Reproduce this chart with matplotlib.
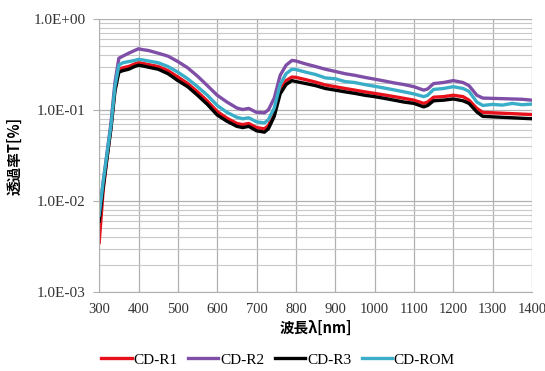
import numpy as np
import matplotlib
matplotlib.use("Agg")
import matplotlib.pyplot as plt
from matplotlib.ticker import FixedLocator, LogLocator, FuncFormatter, NullFormatter

# wavelength [nm]
wavelength = [300, 310, 320, 330, 340, 350, 360, 375, 390, 400, 410, 425, 450, 475, 500,
              525, 550, 575, 600, 625, 650, 665, 680, 700, 720, 730, 745, 760, 775, 790,
              800, 825, 850, 875, 900, 925, 950, 975, 1000, 1025, 1050, 1075, 1100, 1125,
              1135, 1150, 1175, 1200, 1225, 1240, 1260, 1275, 1300, 1325, 1350, 1375, 1400]

# transmittance values
cd_r1 = [0.0035, 0.013, 0.03, 0.065, 0.17, 0.28, 0.29, 0.30, 0.32, 0.33, 0.325, 0.315, 0.30,
         0.27, 0.23, 0.195, 0.158, 0.125, 0.096, 0.081, 0.071, 0.069, 0.071, 0.064, 0.062,
         0.067, 0.093, 0.165, 0.21, 0.23, 0.228, 0.215, 0.202, 0.188, 0.18, 0.172, 0.165,
         0.158, 0.152, 0.146, 0.14, 0.134, 0.128, 0.118, 0.122, 0.138, 0.14, 0.145, 0.14,
         0.128, 0.104, 0.094, 0.093, 0.092, 0.091, 0.09, 0.089]
cd_r2 = [0.0065, 0.016, 0.034, 0.072, 0.2, 0.37, 0.39, 0.42, 0.45, 0.47, 0.46, 0.45, 0.42,
         0.39, 0.34, 0.29, 0.235, 0.185, 0.145, 0.122, 0.105, 0.101, 0.104, 0.094, 0.093,
         0.1, 0.135, 0.24, 0.31, 0.35, 0.345, 0.32, 0.3, 0.28, 0.265, 0.25, 0.24, 0.228,
         0.218, 0.208, 0.198, 0.19, 0.18, 0.165, 0.17, 0.195, 0.2, 0.21, 0.2, 0.185, 0.145,
         0.135, 0.134, 0.133, 0.132, 0.131, 0.128]
cd_r3 = [0.006, 0.014, 0.03, 0.063, 0.16, 0.26, 0.27, 0.28, 0.30, 0.31, 0.305, 0.295, 0.28,
         0.25, 0.21, 0.18, 0.145, 0.115, 0.088, 0.075, 0.066, 0.064, 0.066, 0.059, 0.057,
         0.062, 0.085, 0.15, 0.19, 0.21, 0.205, 0.195, 0.185, 0.172, 0.165, 0.158, 0.152,
         0.145, 0.14, 0.134, 0.128, 0.122, 0.118, 0.108, 0.112, 0.126, 0.128, 0.132, 0.126,
         0.118, 0.095, 0.085, 0.084, 0.083, 0.082, 0.081, 0.080]
cd_rom = [0.007, 0.016, 0.033, 0.068, 0.18, 0.31, 0.33, 0.34, 0.35, 0.36, 0.355, 0.345, 0.33,
          0.3, 0.26, 0.22, 0.18, 0.145, 0.112, 0.094, 0.083, 0.08, 0.082, 0.074, 0.072,
          0.078, 0.105, 0.19, 0.25, 0.28, 0.278, 0.26, 0.245, 0.225, 0.22, 0.205, 0.2, 0.19,
          0.182, 0.174, 0.166, 0.158, 0.15, 0.14, 0.145, 0.168, 0.172, 0.18, 0.172, 0.16,
          0.122, 0.112, 0.115, 0.113, 0.118, 0.114, 0.116]

labels = ["CD-R1", "CD-R2", "CD-R3", "CD-ROM"]
colors = ["#e8101a", "#7f4fa8", "#000000", "#3aaec8"]
x_ticks = list(range(300, 1401, 100))

serif = ["Liberation Serif"]
jp = ["Noto Sans CJK JP", "DejaVu Sans"]

fig = plt.figure(figsize=(5.45, 3.71), dpi=100)
ax = fig.add_axes([0.182, 0.213, 0.794, 0.736])

for y, lab, c in zip([cd_r1, cd_r2, cd_r3, cd_rom], labels, colors):
    ax.plot(wavelength, y, color=c, linewidth=2.4, label=lab)

ax.set_yscale("log")
ax.set_ylim(1e-3, 1.0)
ax.set_xlim(300, 1400)
ax.xaxis.set_major_locator(FixedLocator(x_ticks))
ax.yaxis.set_major_locator(LogLocator(base=10, numticks=10))
ax.yaxis.set_minor_locator(LogLocator(base=10, subs=np.arange(2, 10), numticks=20))
ax.yaxis.set_major_formatter(FuncFormatter(lambda v, p: f"{v:.1E}"))
ax.yaxis.set_minor_formatter(NullFormatter())

ax.grid(True, which="major", color="#b0b0b0", linewidth=0.9)
ax.grid(True, which="minor", axis="y", color="#c8c8c8", linewidth=0.8)
ax.set_axisbelow(True)
for s in ["top", "right"]:
    ax.spines[s].set_visible(False)
for s in ["left", "bottom"]:
    ax.spines[s].set_color("#b0b0b0")

ax.tick_params(axis="x", length=0, pad=8)
ax.tick_params(axis="y", which="major", length=4, color="#b0b0b0", pad=6)
ax.tick_params(axis="y", which="minor", length=0)
for t in ax.get_yticklabels():
    t.set_family(serif)
    t.set_fontsize(11)
    t.set_color("#333333")
for t in ax.get_xticklabels():
    t.set_family(serif)
    t.set_fontsize(10.5)
    t.set_color("#333333")

ax.set_xlabel("波長λ[nm]", family=jp, fontsize=10.5, fontweight="bold", labelpad=3)
ax.set_ylabel("透過率T[%]", family=jp, fontsize=10.5, fontweight="bold")
ax.yaxis.set_label_coords(-0.178, 0.5)

leg = fig.legend(loc="lower center", bbox_to_anchor=(0.51, -0.025), ncol=4, frameon=False,
                 prop={"family": serif, "size": 11}, handlelength=2.0, columnspacing=0.7,
                 handletextpad=0.1)

fig.savefig("out.png", dpi=100)
